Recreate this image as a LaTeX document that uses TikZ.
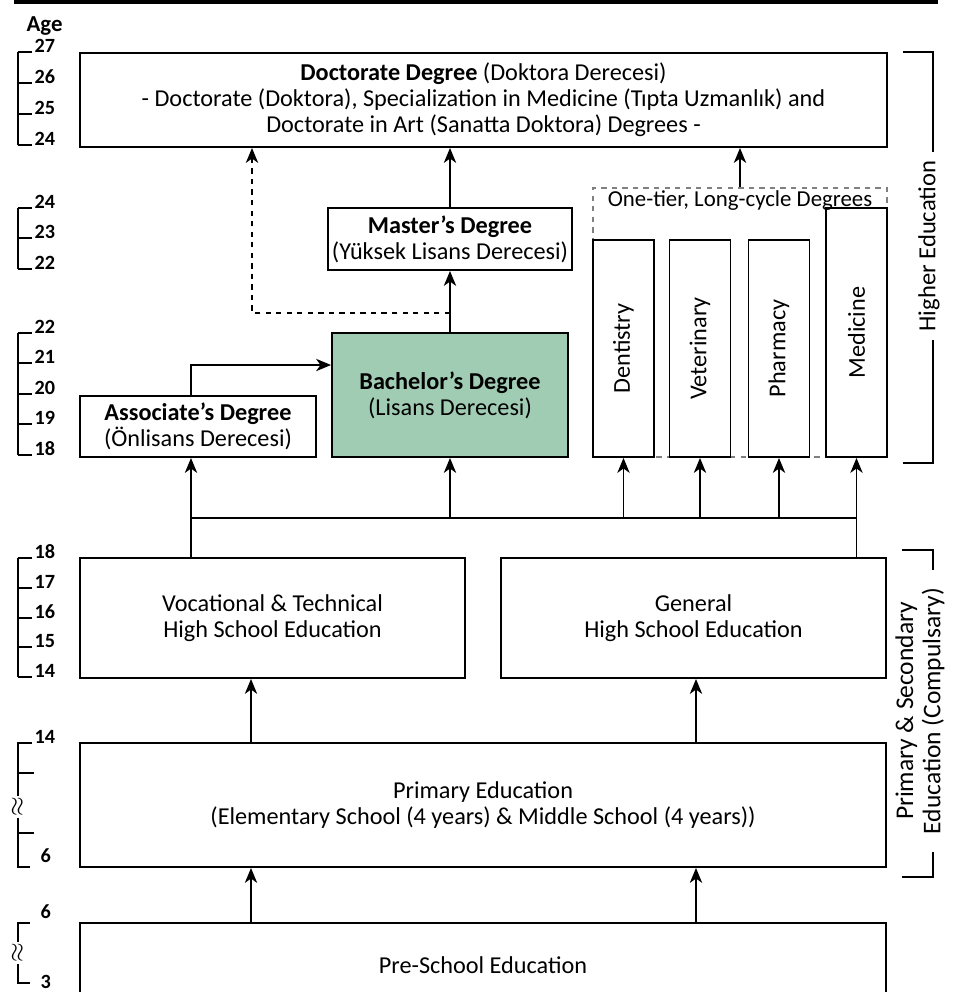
\documentclass[tikz,border=0pt]{standalone}
\usepackage{fontspec}
\usepackage{graphicx}
\setmainfont{Carlito}
\usetikzlibrary{
  calc,
  positioning,
  arrows.meta
}
\definecolor{bachgreen}{RGB}{160,204,180}

\begin{document}
\begin{tikzpicture}[x=0.02cm, y=-0.02cm,
    >={Stealth[length=8.5pt,width=7pt,inset=2.5pt]},
    line width=0.9pt,
    box/.style={draw, line width=1.1pt, inner sep=2pt, align=center,
      font=\fontsize{13.8}{14.8}\selectfont},
    slim/.style={box, minimum width=1.22cm, minimum height=4.34cm},
    age/.style={font=\bfseries\fontsize{11.5}{13}\selectfont, inner sep=1pt, anchor=base west},
    side/.style={rotate=90, align=center, font=\fontsize{14.5}{15.5}\selectfont}
  ]
    \useasboundingbox (0,0) rectangle (953,992);

    \draw[line width=2pt] (14,2) -- (938,2);
    \node[font=\bfseries\fontsize{13}{15}\selectfont, anchor=west] (age) at (20,26) {Age};

    \draw (18,52) -- (18,145);
    \foreach \y/\a in {52/27, 83/26, 114/25, 145/24}
      \draw (18,\y) -- (32,\y) node[age] {\a};
    \draw (18,208) -- (18,269);
    \foreach \y/\a in {208/24, 238/23, 269/22}
      \draw (18,\y) -- (32,\y) node[age] {\a};
    \draw (18,333) -- (18,455);
    \foreach \y/\a in {333/22, 363/21, 394/20, 424/19, 455/18}
      \draw (18,\y) -- (32,\y) node[age] {\a};
    \draw (18,558) -- (18,677);
    \foreach \y/\a in {558/18, 588/17, 618/16, 647/15, 677/14}
      \draw (18,\y) -- (32,\y) node[age] {\a};

    \draw (32,743) -- (18,743) -- (18,796);
    \draw (18,818) -- (18,867) -- (30,867);
    \draw (18,773) -- (34,773);
    \draw (18,833) -- (34,833);
    \node[age] (a14) at (32,743) {14};
    \node[age] (a6) at (38,862) {6};
    \node[rotate=90, inner sep=0pt, font=\Large\bfseries] (apx1) at (18,807) {$\approx$};

    \draw (30,923) -- (18,923) -- (18,942);
    \draw (18,964) -- (18,983) -- (30,983);
    \node[age] (b6) at (38,918) {6};
    \node[age] (b3) at (38,988) {3};
    \node[rotate=90, inner sep=0pt, font=\Large\bfseries] (apx2) at (18,953) {$\approx$};

    \node[box, minimum width=16.14cm, minimum height=1.88cm] (doct) at (483.5,100)
      {\textbf{Doctorate Degree} (Doktora Derecesi)\\
       - Doctorate (Doktora), Specialization in Medicine (Tıpta Uzmanlık) and\\
       Doctorate in Art (Sanatta Doktora) Degrees -};
    \node[box, minimum width=4.72cm, minimum height=1.24cm] (mast) at (450,239)
      {\textbf{Master's Degree}\\(Yüksek Lisans Derecesi)};
    \node[box, fill=bachgreen, minimum width=4.72cm, minimum height=2.48cm] (bach) at (450,395)
      {\textbf{Bachelor's Degree}\\(Lisans Derecesi)};
    \node[box, minimum width=4.72cm, minimum height=1.22cm] (assoc) at (198,426.5)
      {\textbf{Associate's Degree}\\(Önlisans Derecesi)};

    \node[draw=gray, dashed, line width=0.8pt, minimum width=5.88cm, minimum height=5.38cm] (longc) at (740,322.5) {};
    \node[anchor=north, inner sep=1pt, font=\fontsize{13}{14}\selectfont] (longt) at ([yshift=-0.01cm]longc.north)
      {One-tier, Long-cycle Degrees};
    \node[slim] (dent) at (623.5,348.5) {\rotatebox{90}{Dentistry}};
    \node[slim] (vet) at (700,348.5) {\rotatebox{90}{Veterinary}};
    \node[slim] (pharm) at (779,348.5) {\rotatebox{90}{Pharmacy}};
    \node[slim, minimum height=4.98cm] (med) at (856.5,332.5) {\rotatebox{90}{Medicine}};

    \node[box, minimum width=7.7cm, minimum height=2.4cm] (voc) at (272.5,618)
      {Vocational \& Technical\\High School Education};
    \node[box, minimum width=7.7cm, minimum height=2.4cm] (gen) at (693.5,618)
      {General\\High School Education};
    \node[box, minimum width=16.12cm, minimum height=2.48cm] (prim) at (483,805)
      {Primary Education\\(Elementary School (4 years) \& Middle School (4 years))};
    \node[box, minimum width=16.12cm, minimum height=1.68cm] (pre) at (483,965)
      {Pre-School Education};

    \coordinate (busL) at (191,518);
    \coordinate (busR) at (856.5,518);
    \draw (busL |- voc.north) -- (busL) -- (busR) -- (busR |- gen.north);
    \draw[->] (busL) -- (busL |- assoc.south);
    \foreach \n in {bach, dent, vet, pharm, med}
      \draw[->] (\n.south |- busL) -- (\n.south);
    \draw[->] (busL |- assoc.north) |- ([yshift=0.6cm]bach.west);

    \draw[->] (bach.north) -- (mast.south);
    \draw[->] (mast.north) -- (mast.north |- doct.south);
    \draw[->] (longc.north) -- (longc.north |- doct.south);
    \coordinate (dj) at (450,313);
    \coordinate (dk) at (252,313);
    \draw[dashed, ->] (dj) -- (dk) -- (dk |- doct.south);

    \foreach \n/\s in {voc/-0.43cm, gen/0.05cm} {
      \draw[->] ([xshift=\s]\n.south |- prim.north) -- ([xshift=\s]\n.south);
      \draw[->] ([xshift=\s]\n.south |- pre.north) -- ([xshift=\s]\n.south |- prim.south);
    }

    \draw (903,52) -- (933,52) -- (933,152);
    \draw (933,340) -- (933,463) -- (903,463);
    \node[side, font=\fontsize{14}{15}\selectfont] (hied) at (929,246) {Higher Education};
    \draw (902,550) -- (933,550) -- (933,570);
    \draw (933,852) -- (933,877) -- (902,877);
    \node[side] (prsec) at (920,711) {Primary \& Secondary\\Education (Compulsary)};
  \end{tikzpicture}
\end{document}
